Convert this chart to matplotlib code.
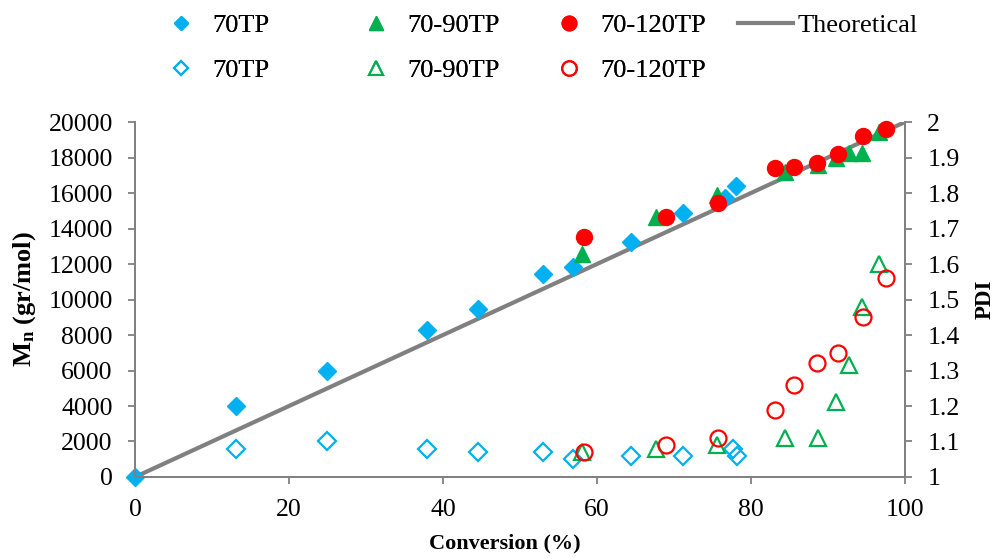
import numpy as np
import matplotlib.pyplot as plt
from matplotlib.lines import Line2D

plt.rcParams['font.family'] = ['Liberation Serif', 'DejaVu Serif']
plt.rcParams['mathtext.fontset'] = 'custom'
plt.rcParams['mathtext.rm'] = 'Liberation Serif'
plt.rcParams['mathtext.bf'] = 'Liberation Serif:bold'

# conversion (%) and Mn (gr/mol) / PDI for each run
conv_70 = [0, 13.1, 24.9, 37.9, 44.5, 53.0, 56.9, 64.4, 71.2, 76.6, 78.0]
mn_70 = [0, 4000, 6000, 8300, 9450, 11450, 11850, 13250, 14900, 15700, 16400]
pdi_conv_70 = [13.1, 24.9, 37.9, 44.5, 53.0, 56.9, 64.4, 71.2, 77.7, 78.2]
pdi_70 = [1.08, 1.10, 1.08, 1.07, 1.07, 1.05, 1.06, 1.06, 1.08, 1.06]

conv_90 = [58.1, 67.7, 75.6, 84.4, 88.7, 91.1, 92.7, 94.4, 96.6]
mn_90 = [12550, 14650, 15900, 17200, 17600, 17950, 18250, 18250, 19450]
pdi_90 = [1.07, 1.08, 1.09, 1.11, 1.11, 1.21, 1.315, 1.48, 1.60]

conv_120 = [58.3, 69.0, 75.7, 83.1, 85.6, 88.6, 91.3, 94.5, 97.6]
mn_120 = [13500, 14650, 15450, 17400, 17450, 17700, 18200, 19200, 19600]
pdi_120 = [1.07, 1.09, 1.11, 1.19, 1.26, 1.32, 1.35, 1.45, 1.56]

theo_conv = [0, 100]
theo_mn = [0, 20000]

blue = '#00B0F0'
green = '#00B050'
red = '#FF0000'
grey = '#808080'
fs = 18.5

fig = plt.figure(figsize=(9.95, 5.59), dpi=100)
ax = fig.add_axes([0.1357, 0.1467, 0.7738, 0.635])
ax2 = ax.twinx()

ax.plot(theo_conv, theo_mn, color=grey, lw=3, zorder=1)
ax.plot(conv_70, mn_70, 'D', color=blue, ms=9.5, mec=blue, ls='none', clip_on=False, zorder=2)
ax.plot(conv_90, mn_90, '^', color=green, ms=11.5, ls='none', clip_on=False, zorder=3)
ax.plot(conv_120, mn_120, 'o', color=red, ms=11.5, ls='none', clip_on=False, zorder=4)

ax2.plot(pdi_conv_70, pdi_70, 'D', mfc='none', mec=blue, mew=1.6, ms=9.5, ls='none')
ax2.plot(conv_90, pdi_90, '^', mfc='none', mec=green, mew=1.6, ms=11.5, ls='none')
ax2.plot(conv_120, pdi_120, 'o', mfc='none', mec=red, mew=1.6, ms=11.5, ls='none')

ax.set_xlim(0, 100)
ax.set_ylim(0, 20000)
ax2.set_ylim(1, 2)
ax.set_xticks(np.arange(0, 101, 20))
ax.set_yticks(np.arange(0, 20001, 2000))
ax2.set_yticks(np.round(np.arange(1, 2.01, 0.1), 1))
ax2.set_yticklabels(['1', '1.1', '1.2', '1.3', '1.4', '1.5', '1.6', '1.7', '1.8', '1.9', '2'])

for a in (ax, ax2):
    for s in a.spines.values():
        s.set_color(grey)
        s.set_linewidth(1.3)
    a.tick_params(labelsize=fs, color=grey, width=1.3, length=5, direction='out', pad=11)
ax.spines['top'].set_visible(False)
ax2.spines['top'].set_visible(False)

ax.set_xlabel('Conversion (%)', fontsize=16, fontweight='bold')
ax.set_ylabel(r'$\mathbf{M_n}$ (gr/mol)', fontsize=19, fontweight='bold')
ax2.set_ylabel('PDI', fontsize=16.5, fontweight='bold')
ax.xaxis.set_label_coords(0.48, -0.158)
ax.yaxis.set_label_coords(-0.126, 0.5)
ax2.yaxis.set_label_coords(1.091, 0.5)

# legend: one column per series, filled (Mn) on top, hollow (PDI) below
cols = [
    ('D', blue, '70TP', 0.1698),
    ('^', green, '70-90TP', 0.3658),
    ('o', red, '70-120TP', 0.5598),
]
for mk, c, name, xpos in cols:
    ms = 6.8 if mk == 'D' else 10.5
    h = [Line2D([], [], marker=mk, color=c, ls='none', ms=ms),
         Line2D([], [], marker=mk, mfc='none', mec=c, mew=1.5, ls='none', ms=ms)]
    leg = fig.legend(h, [name, name], loc='upper left', bbox_to_anchor=(xpos, 0.975),
                     frameon=False, fontsize=19, handlelength=0.9, handletextpad=0.75,
                     labelspacing=0.8, borderpad=0, borderaxespad=0)
    fig.add_artist(leg)
fig.legend([Line2D([], [], color=grey, lw=3)], ['Theoretical'], loc='upper left',
           bbox_to_anchor=(0.7417, 0.975), frameon=False, fontsize=19,
           handlelength=2.08, handletextpad=0.19, borderpad=0, borderaxespad=0)

fig.savefig('out.png', dpi=100)
